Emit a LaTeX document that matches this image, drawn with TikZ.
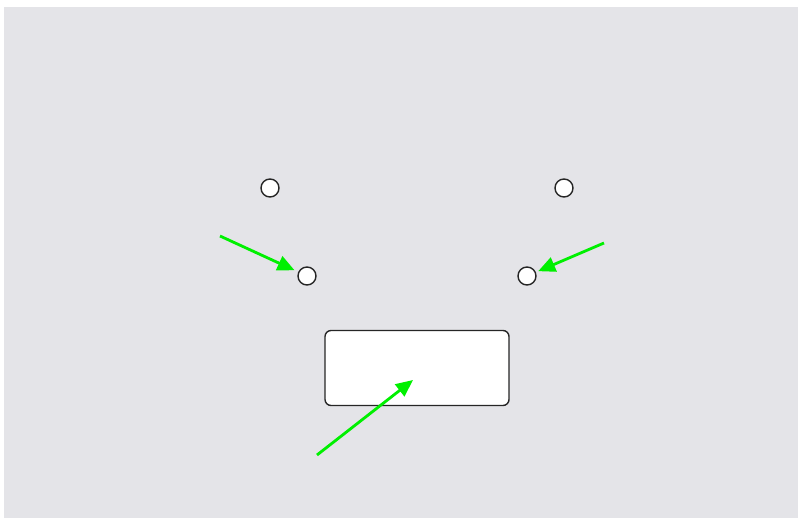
\documentclass[tikz,border=0pt]{standalone}
\usetikzlibrary{arrows.meta,calc,positioning}

\definecolor{panelgray}{RGB}{228,228,232}
\definecolor{pointer}{RGB}{0,240,0}

\begin{document}
\begin{tikzpicture}[x=0.02cm,y=-0.02cm,
    dot/.style={circle,minimum size=0.36cm,inner sep=0pt,fill=white,draw=black!85,line width=0.8pt},
    panel/.style={rectangle,minimum width=3.68cm,minimum height=1.5cm,rounded corners=0.12cm,fill=white,draw=black!85,line width=0.8pt},
    hint/.style={draw=pointer,line width=1.6pt,-{Triangle[length=0.34cm,width=0.3cm]}}]

    \useasboundingbox (0,0) rectangle (801,520);
    \fill[panelgray] (4,7) rectangle (798,518);

    % points and box
    \node[dot] (TOPL) at (270,188) {};
    \node[dot] (TOPR) at (564,188) {};
    \node[dot] (MIDL) at (307,276) {};
    \node[dot] (MIDR) at (527,276) {};
    \node[panel] (BOX) at (417,368) {};

    % green pointers
    \coordinate (FROML) at (220,236);
    \coordinate (FROMR) at (604,243);
    \coordinate (FROMB) at (317,455);
    \coordinate (INBOX) at ($(BOX.center)+(-4,12)$);

    \draw[hint,shorten >=0.08cm] (FROML) -- (MIDL);
    \draw[hint,shorten >=0.05cm] (FROMR) -- (MIDR);
    \draw[hint] (FROMB) -- (INBOX);
  \end{tikzpicture}
\end{document}
